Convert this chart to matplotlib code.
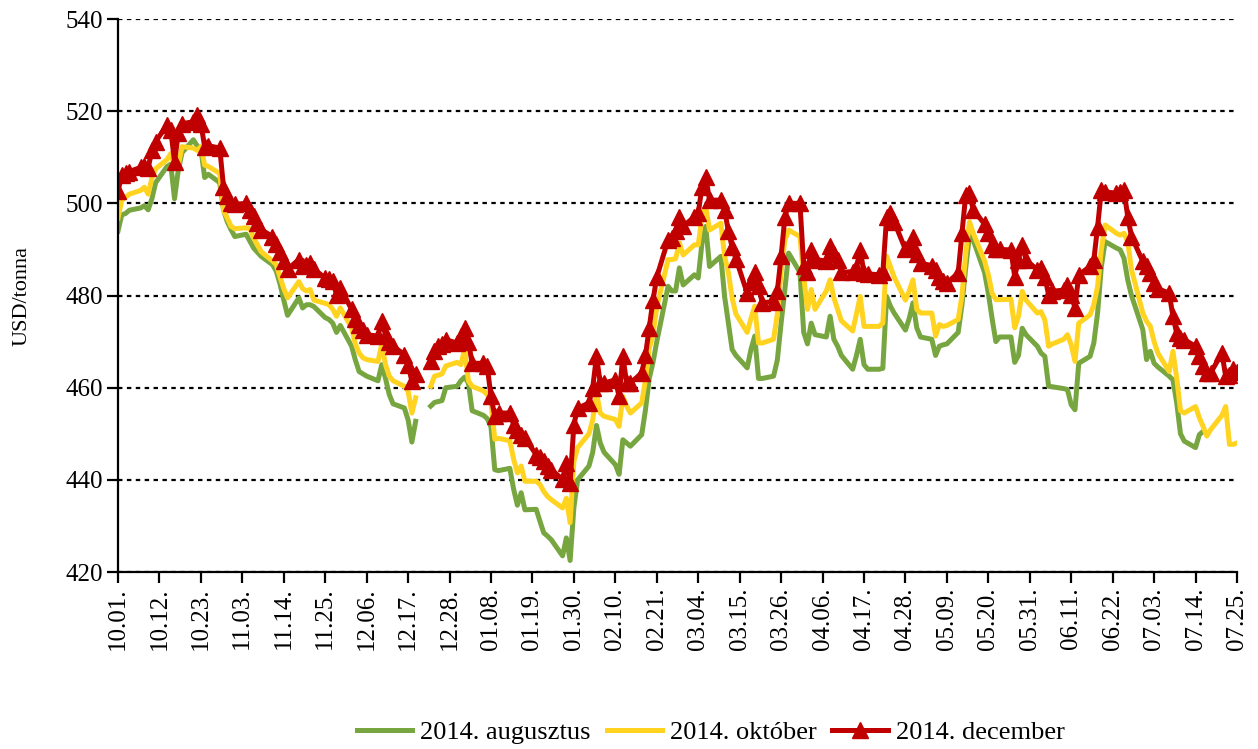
import matplotlib.pyplot as plt
import matplotlib.dates as mdates
import numpy as np
import pandas as pd

plt.rcParams["font.family"] = ["Liberation Serif", "DejaVu Serif"]

nan = np.nan

# trading days, 2013.10.01 - 2014.07.25 (one row per week below)
dates = pd.bdate_range("2013-10-01", "2014-07-25")

# 2014. augusztus (USD/tonna)
aug = [
    494.0, 497.5, 497.8, 498.5,
    499.0, 499.5, 498.6, 501.0, 504.5,
    508.0, 508.5, 501.0, 507.2, 511.0,
    513.8, 512.5, 511.8, 505.6, 506.3,
    504.5, 498.6, 496.0, 494.3, 492.8,
    493.3, 491.8, 490.3, 489.4, 488.5,
    486.7, 485.3, 482.5, 479.0, 475.7,
    479.5, 477.3, 478.0, 478.0, 477.6,
    475.2, 474.8, 474.0, 472.0, 473.5,
    469.0, 466.0, 463.5, 463.0, 462.5,
    461.5, 465.0, 462.0, 458.5, 456.5,
    455.6, 453.0, 448.2, 452.7, nan,
    456.0, 456.8, 457.0, 457.2, 460.0,
    460.3, 461.5, 462.3, 461.0, 455.0,
    454.0, 453.3, 451.5, 442.2, 442.0,
    442.5, 438.0, 434.5, 437.2, 433.5,
    433.6, 431.0, 428.5, 427.8, 427.0,
    423.5, 427.4, 422.5, 434.0, 440.0,
    443.0, 446.0, 451.8, 448.0, 446.0,
    443.3, 441.2, 448.7, 448.0, 447.3,
    449.8, 455.2, 462.0, 465.5, 470.0,
    482.0, 481.0, 481.0, 486.0, 482.3,
    484.5, 483.8, 491.4, 495.0, 486.3,
    488.5, 479.8, 474.0, 468.3, 467.0,
    464.3, 468.3, 471.2, 462.0, 462.0,
    462.5, 466.0, 474.0, 481.3, 489.2,
    485.0, 472.0, 469.5, 474.0, 471.5,
    471.0, 475.5, 470.5, 469.0, 467.0,
    464.0, 467.0, 470.5, 465.0, 464.0,
    464.0, 464.2, 479.8, 477.7, 476.2,
    472.5, 475.0, 478.4, 473.0, 471.0,
    470.5, 467.0, 469.0, 469.3, 469.5,
    472.0, 478.0, 486.0, 493.0, 492.0,
    485.0, 480.5, 475.0, 470.0, 471.0,
    471.0, 465.5, 467.0, 472.9, 471.5,
    469.0, 467.5, 466.8, 460.3, 460.2,
    459.8, 459.6, 456.3, 455.2, 465.3,
    466.8, 469.7, 476.2, 486.3, 491.7,
    490.3, 489.9, 488.1, 483.4, 480.0,
    472.6, 466.1, 467.9, 465.3, 464.5,
    462.5, 461.7, 456.7, 450.0, 448.4,
    447.0, 449.8, 450.5, nan, nan,
    nan, nan, nan, nan, nan,
]

# 2014. október
okt = [
    496.8, 500.7, 501.3, 502.0,
    502.8, 503.5, 502.0, 505.5, 507.5,
    509.5, 510.8, 508.0, 508.3, 512.3,
    512.0, 511.5, 512.3, 508.3, 508.0,
    506.5, 498.6, 496.8, 495.0, 494.5,
    494.7, 494.5, 492.5, 491.0, 489.5,
    487.5, 486.7, 484.0, 481.5, 479.5,
    483.0, 481.5, 481.0, 481.3, 479.0,
    478.3, 478.0, 477.0, 475.5, 477.3,
    473.0, 469.5, 467.5, 466.5, 466.1,
    465.7, 469.4, 465.0, 462.5, 461.5,
    460.3, 459.2, 454.5, 457.8, nan,
    460.3, 462.5, 462.7, 463.0, 464.7,
    465.5, 465.0, 468.3, 461.5, 460.3,
    459.3, 458.5, 456.7, 448.8, 449.0,
    448.5, 444.5, 441.5, 443.0, 439.7,
    439.7, 439.0, 437.5, 436.4, 435.7,
    433.9, 436.0, 430.7, 444.0, 447.0,
    450.0, 453.0, 458.8, 454.5, 453.8,
    453.1, 451.6, 458.1, 456.0, 454.5,
    456.7, 461.7, 468.5, 471.5, 477.5,
    487.8, 487.8, 488.0, 491.4, 488.8,
    491.0, 491.0, 497.1, 499.3, 494.2,
    495.7, 488.5, 485.0, 479.5, 476.0,
    472.0, 475.0, 477.7, 469.7, 469.7,
    470.5, 476.0, 485.0, 492.0, 494.2,
    492.8, 484.0, 477.0, 481.3, 477.0,
    481.0, 483.4, 479.5, 477.0, 474.5,
    472.3, 476.0, 479.8, 473.3, 473.3,
    473.3, 474.0, 488.5, 486.3, 484.0,
    479.0, 481.0, 483.4, 477.0, 476.2,
    476.2, 471.2, 473.7, 473.3, 473.5,
    474.8, 480.0, 489.0, 496.0, 493.5,
    487.5, 484.5, 480.5, 479.1, 479.1,
    479.2, 473.0, 475.5, 480.9, 479.0,
    476.2, 476.5, 474.7, 469.0, 469.5,
    470.5, 471.5, 469.3, 465.7, 474.0,
    475.8, 478.0, 482.0, 490.0, 495.3,
    493.5, 493.1, 493.5, 491.7, 485.6,
    476.2, 474.4, 473.3, 470.0, 467.5,
    463.5, 467.9, 462.1, 455.0, 454.5,
    455.9, 453.5, 451.6, 449.5, 450.9,
    454.0, 455.9, 447.7, 447.7, 448.0,
]

# 2014. december
dec = [
    502.6, 506.2, 506.5, 506.9,
    507.8, 508.0, 507.6, 511.6, 513.4,
    517.0, 516.0, 509.0, 515.2, 517.3,
    517.7, 519.1, 517.3, 512.3, 512.5,
    512.0, 503.6, 501.5, 500.0, 499.8,
    500.0, 498.6, 497.2, 495.8, 494.3,
    492.8, 491.1, 489.5, 487.5, 485.7,
    487.8, 486.5, 486.7, 487.1, 485.7,
    483.8, 483.5, 483.1, 480.2, 481.7,
    477.0, 475.0, 473.5, 472.5, 471.5,
    471.2, 474.4, 471.5, 470.0, 469.0,
    467.2, 465.0, 461.4, 462.9, nan,
    465.7, 468.0, 469.0, 469.5, 470.4,
    469.7, 471.2, 473.0, 470.0, 465.3,
    465.3, 464.6, 458.1, 453.8, 454.5,
    454.5, 452.0, 450.9, 449.8, 449.0,
    445.5, 445.0, 444.0, 443.0, 442.2,
    440.1, 443.7, 439.4, 452.0, 455.5,
    456.7, 460.0, 466.8, 461.0, 461.0,
    461.7, 458.1, 466.8, 461.0, 461.0,
    463.2, 467.0, 473.0, 479.0, 484.0,
    492.1, 492.4, 494.0, 497.1, 495.0,
    497.1, 497.8, 503.6, 505.8, 500.7,
    500.7, 498.5, 494.0, 490.5, 488.0,
    480.5, 483.0, 485.2, 482.0, 478.4,
    478.7, 481.0, 488.5, 497.0, 500.0,
    500.0, 486.3, 485.0, 489.9, 487.8,
    487.5, 490.8, 489.0, 487.8, 485.0,
    485.2, 486.0, 489.9, 484.9, 484.7,
    484.5, 485.0, 497.0, 497.8, 496.0,
    490.0, 490.5, 492.8, 489.0, 487.0,
    486.5, 485.6, 484.1, 483.1, 482.7,
    484.9, 493.5, 501.8, 502.2, 498.6,
    495.5, 493.5, 491.0, 490.0, 490.0,
    489.9, 484.1, 487.8, 491.0, 487.7,
    485.6, 485.9, 484.1, 480.1, 480.9,
    481.2, 482.3, 480.1, 477.3, 484.5,
    486.3, 487.7, 494.9, 502.9, 502.5,
    502.2, 502.5, 502.9, 497.1, 492.8,
    487.4, 486.3, 484.8, 482.7, 481.5,
    480.5, 475.5, 471.8, 470.8, 470.4,
    469.0, 466.8, 464.6, 463.2, 463.2,
    467.5, 462.5, 462.8, 464.0, 463.5,
]

labels = ["2014. augusztus", "2014. október", "2014. december"]
colors = ["#77A640", "#FFD320", "#C00000"]

fig = plt.figure(figsize=(12.58, 7.49), dpi=100)
ax = fig.add_axes([0.0938, 0.2363, 0.8895, 0.7383])

ax.plot(dates, aug, color=colors[0], lw=3.6, label=labels[0])
ax.plot(dates, okt, color=colors[1], lw=3.6, label=labels[1])
ax.plot(dates, dec, color=colors[2], lw=3.6, marker="^", markersize=11,
        label=labels[2])

ax.set_ylim(420, 540)
ax.set_yticks(range(420, 541, 20))
ax.set_xlim(pd.Timestamp("2013-10-01"), pd.Timestamp("2014-07-25"))
ax.set_xticks(pd.date_range("2013-10-01", "2014-07-25", freq="11D"))
ax.xaxis.set_major_formatter(mdates.DateFormatter("%m.%d."))
plt.setp(ax.get_xticklabels(), rotation=90)

ax.grid(axis="y", color="black", linestyle=(0, (2, 2)), lw=1.6)
ax.spines["top"].set_visible(False)
ax.spines["right"].set_visible(False)
ax.spines["left"].set_linewidth(1.6)
ax.spines["bottom"].set_linewidth(1.6)
ax.tick_params(axis="both", direction="out", length=8, width=1.6, labelsize=18, pad=3)
ax.set_ylabel("USD/tonna", fontsize=16, labelpad=24)

fig.legend(loc="center", bbox_to_anchor=(0.565, 0.022), ncol=3, frameon=False,
           fontsize=19, handlelength=2.1, columnspacing=0.6, handletextpad=0.3)

fig.savefig("out.png", dpi=100)
